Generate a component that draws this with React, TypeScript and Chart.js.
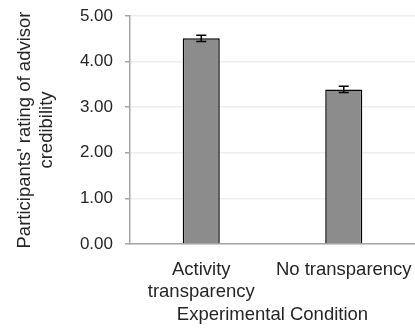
import React, { useEffect, useRef } from 'react';
import { Chart, registerables } from 'chart.js';

Chart.register(...registerables);

const categories: (string | string[])[] = [['Activity', 'transparency'], 'No transparency'];
const means = [4.51, 3.39];
const errors = [0.07, 0.07];
const yMin = 0;
const yMax = 5;
const yStep = 1;
const xTitle = 'Experimental Condition';
const yTitle = ["Participants' rating of advisor", 'credibility'];

const FONT = "'Liberation Sans', Arial, sans-serif";
const TEXT = '#262626';

const errorBarPlugin = {
  id: 'errorBars',
  afterDatasetsDraw(chart: any) {
    const ctx = chart.ctx;
    const meta = chart.getDatasetMeta(0);
    const y = chart.scales.y;
    ctx.save();
    ctx.strokeStyle = '#000';
    ctx.lineWidth = 1.5;
    meta.data.forEach((bar: any, i: number) => {
      const x = bar.x;
      const top = y.getPixelForValue(means[i] + errors[i]);
      const bot = y.getPixelForValue(means[i] - errors[i]);
      ctx.beginPath();
      ctx.moveTo(x, top);
      ctx.lineTo(x, bot);
      ctx.moveTo(x - 5, top);
      ctx.lineTo(x + 5, top);
      ctx.moveTo(x - 5, bot);
      ctx.lineTo(x + 5, bot);
      ctx.stroke();
    });
    ctx.restore();
  },
};

export default function App() {
  const ref = useRef<HTMLCanvasElement>(null);
  useEffect(() => {
    document.body.style.margin = '0';
    const chart = new Chart(ref.current!, {
      type: 'bar',
      data: {
        labels: categories as any,
        datasets: [
          {
            data: means,
            backgroundColor: '#8c8c8c',
            borderColor: '#000000',
            borderWidth: 1.5,
            barPercentage: 0.26,
            categoryPercentage: 1,
          },
        ],
      },
      options: {
        responsive: false,
        animation: false,
        layout: { padding: { top: 16, right: 0, left: 0, bottom: 0 } },
        plugins: { legend: { display: false }, tooltip: { enabled: false } },
        scales: {
          x: {
            grid: { display: false, drawTicks: false },
            border: { color: '#a6a6a6', width: 1.5 },
            ticks: {
              color: TEXT,
              font: { family: FONT, size: 18.5 },
              padding: 15,
              maxRotation: 0,
              autoSkip: false,
            },
            title: {
              display: true,
              text: xTitle,
              color: TEXT,
              font: { family: FONT, size: 18.5 },
              padding: { top: 0, bottom: 3 },
            },
            afterFit: (s: any) => {
              s.height = 85;
              s.paddingLeft = 0;
              s.paddingRight = 0;
            },
          },
          y: {
            min: yMin,
            max: yMax,
            grid: { color: '#ededed', lineWidth: 1.5, tickLength: 5, tickColor: '#a6a6a6' },
            border: { color: '#a6a6a6', width: 1.5 },
            ticks: {
              stepSize: yStep,
              color: TEXT,
              font: { family: FONT, size: 17 },
              padding: 12,
              callback: (v: any) => Number(v).toFixed(2),
            },
            title: {
              display: true,
              text: yTitle,
              color: TEXT,
              font: { family: FONT, size: 18.5, lineHeight: 1.2 },
              padding: { top: 14, bottom: 0 },
            },
            afterFit: (s: any) => {
              s.width = 130;
              s.paddingTop = 0;
              s.paddingBottom = 0;
            },
          },
        },
      },
      plugins: [errorBarPlugin],
    });
    return () => chart.destroy();
  }, []);
  return <canvas ref={ref} width={415} height={329} style={{ display: 'block' }} />;
}
